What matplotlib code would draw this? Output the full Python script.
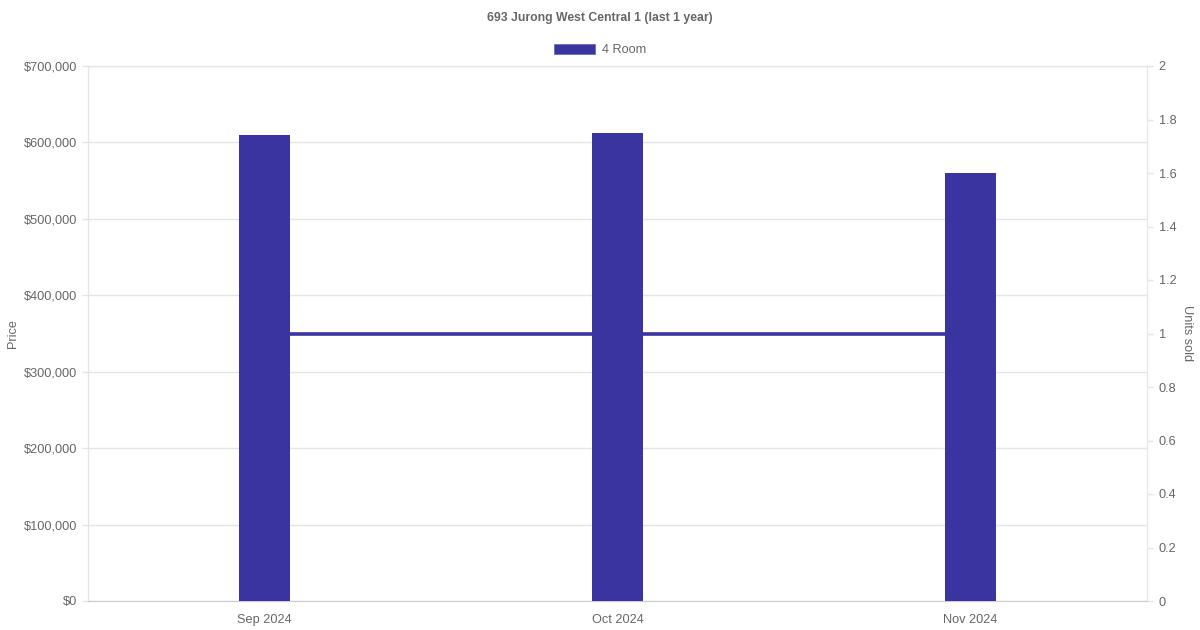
import matplotlib.pyplot as plt
from matplotlib.ticker import FuncFormatter
from matplotlib.patches import Patch

# данные
months = ['Sep 2024', 'Oct 2024', 'Nov 2024']
prices = [610000, 612000, 560000]
units_sold = [1, 1, 1]

bar_color = '#3934a0'
text_color = '#666666'
grid_color = '#e5e5e5'

plt.rcParams['font.family'] = ['Liberation Sans', 'DejaVu Sans']

fig = plt.figure(figsize=(12, 6.3), dpi=100)
ax = fig.add_axes([88 / 1200, 29 / 630, (1147 - 88) / 1200, (601 - 66) / 630])
ax2 = ax.twinx()

x = list(range(len(months)))

# линия продаж под столбцами
ax2.plot(x, units_sold, color=bar_color, linewidth=2.6, solid_capstyle='butt')
ax.set_zorder(ax2.get_zorder() + 1)
ax.patch.set_visible(False)

ax.bar(x, prices, width=0.142, color=bar_color, zorder=3)

ax.set_xlim(-0.5, len(months) - 0.5)
ax.set_ylim(0, 700000)
ax2.set_ylim(0, 2)
ax.set_yticks(range(0, 700001, 100000))
ax2.set_yticks([i / 10 for i in range(0, 21, 2)])
ax2.yaxis.set_major_formatter(FuncFormatter(lambda v, p: f'{v:g}'))
ax.yaxis.set_major_formatter(FuncFormatter(lambda v, p: f'${v:,.0f}'))
ax.set_xticks(x)
ax.set_xticklabels(months)

ax.grid(True, axis='y', color=grid_color, linewidth=1, zorder=0)
for a in (ax, ax2):
    a.tick_params(colors=text_color, labelsize=9.2, length=4.5, width=1)
    a.tick_params(axis='both', color=grid_color)
    for s in a.spines.values():
        s.set_color(grid_color)
ax.spines['bottom'].set_color('#cccccc')
ax.tick_params(axis='x', length=0, pad=9.5)
ax.tick_params(axis='y', pad=3.5)
ax2.tick_params(axis='y', pad=4)

ax.set_ylabel('Price', color=text_color, fontsize=9.2, labelpad=3)
ax2.set_ylabel('Units sold', color=text_color, fontsize=9.2, rotation=270, labelpad=12)

fig.text(0.5, 1 - 17.5 / 630, '693 Jurong West Central 1 (last 1 year)',
         ha='center', va='center', fontsize=8.8, fontweight='bold', color=text_color)

handle = Patch(facecolor=bar_color, edgecolor='#6f6bc0', linewidth=0.6)
fig.legend([handle], ['4 Room'], loc='center', bbox_to_anchor=(0.5, 1 - 50 / 630),
           frameon=False, fontsize=9.2, labelcolor=text_color,
           handlelength=3.2, handleheight=0.9, handletextpad=0.5)

fig.savefig('out.png', dpi=100)
